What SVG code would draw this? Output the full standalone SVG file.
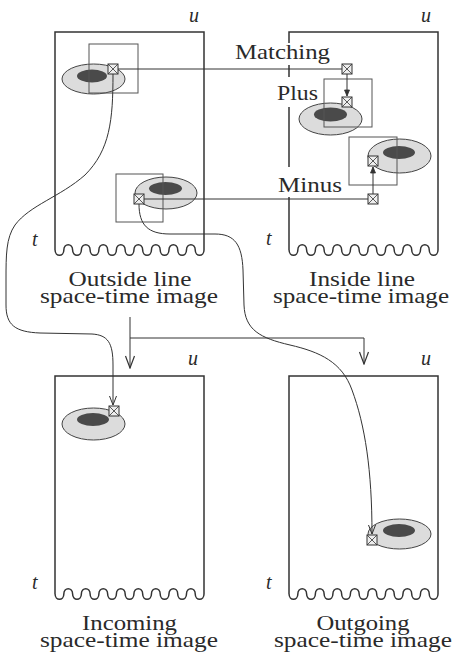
<svg xmlns="http://www.w3.org/2000/svg" width="453" height="654" viewBox="0 0 453 654">
<style>
.frame{fill:none;stroke:#333;stroke-width:1.5}
.sq{fill:none;stroke:#555;stroke-width:1}
.outer{fill:#dcdcdc;stroke:#444;stroke-width:1}
.inner{fill:#4a4a4a}
.con{fill:none;stroke:#333;stroke-width:1}
.lbl{font-family:"Liberation Serif","Times New Roman",serif;font-size:21px;fill:#2a2a2a}
.ax{font-family:"Liberation Serif","Times New Roman",serif;font-size:20px;font-style:italic;fill:#2a2a2a}
.gap{fill:#fff;stroke:none}
</style>
<defs>
<path id="frm" d="M0,218 V0 H149 V218 c0,7 -8.76,7 -8.76,0 c0,-7 -8.76,-7 -8.76,0 c0,7 -8.76,7 -8.76,0 c0,-7 -8.76,-7 -8.76,0 c0,7 -8.76,7 -8.76,0 c0,-7 -8.76,-7 -8.76,0 c0,7 -8.76,7 -8.76,0 c0,-7 -8.76,-7 -8.76,0 c0,7 -8.76,7 -8.76,0 c0,-7 -8.76,-7 -8.76,0 c0,7 -8.76,7 -8.76,0 c0,-7 -8.76,-7 -8.76,0 c0,7 -8.76,7 -8.76,0 c0,-7 -8.76,-7 -8.76,0 c0,7 -8.76,7 -8.76,0 c0,-7 -8.76,-7 -8.76,0 c0,7 -8.76,7 -8.76,0"/>
<g id="xb"><rect x="-5" y="-5" width="10" height="10" fill="#eee" stroke="#333" stroke-width="1"/><path d="M-5,-5 L5,5 M5,-5 L-5,5" stroke="#333" stroke-width="0.8"/></g>
<marker id="ah" viewBox="-10 -5 11 10" refX="0" refY="0" markerWidth="11" markerHeight="10" markerUnits="userSpaceOnUse" orient="auto"><path d="M-9,-3.5 L0,0 L-9,3.5" fill="none" stroke="#333" stroke-width="1"/></marker>
<marker id="ahs" viewBox="-7 -4 8 8" refX="0" refY="0" markerWidth="8" markerHeight="8" markerUnits="userSpaceOnUse" orient="auto"><path d="M-6,-2.5 L0,0 L-6,2.5 Z" fill="#333" stroke="#333" stroke-width="0.8"/></marker>
<marker id="ahb" viewBox="-13 -6 14 12" refX="0" refY="0" markerWidth="14" markerHeight="12" markerUnits="userSpaceOnUse" orient="auto"><path d="M-12,-4.5 L0,0 L-12,4.5" fill="none" stroke="#333" stroke-width="1.2"/></marker>
</defs>

<g id="panel-outside">
<use href="#frm" class="frame" transform="translate(55,32)"/>
<text class="ax" x="189" y="22">u</text>
<text class="ax" x="32" y="246">t</text>
<ellipse class="outer" cx="93.5" cy="79" rx="31.5" ry="15"/>
<ellipse class="inner" cx="92" cy="76" rx="15" ry="6.5"/>
<rect class="sq" x="89" y="44" width="49" height="49"/>
<ellipse class="outer" cx="166" cy="193" rx="31" ry="16"/>
<ellipse class="inner" cx="165.5" cy="188.5" rx="16.5" ry="6.5"/>
<rect class="sq" x="116" y="174" width="47" height="48"/>
<use href="#xb" x="113" y="69"/>
<use href="#xb" x="139" y="199"/>
<text class="lbl" x="130" y="286" text-anchor="middle" textLength="123" lengthAdjust="spacingAndGlyphs">Outside line</text>
<text class="lbl" x="129" y="303" text-anchor="middle" textLength="178" lengthAdjust="spacingAndGlyphs">space-time image</text>
</g>

<g id="panel-inside">
<use href="#frm" class="frame" transform="translate(289,32)"/>
<rect class="gap" x="284" y="43" width="10" height="22"/>
<rect class="gap" x="284" y="77" width="10" height="30"/>
<rect class="gap" x="284" y="167" width="10" height="30"/>
<text class="ax" x="421" y="22">u</text>
<text class="ax" x="266" y="245">t</text>
<ellipse class="outer" cx="330.5" cy="119" rx="31.5" ry="16"/>
<ellipse class="inner" cx="330.5" cy="114.5" rx="16.5" ry="7"/>
<rect class="sq" x="324" y="79" width="48" height="48"/>
<ellipse class="outer" cx="399.5" cy="156" rx="31.5" ry="17"/>
<ellipse class="inner" cx="399" cy="152.5" rx="16" ry="6.5"/>
<rect class="sq" x="349" y="137" width="48" height="48"/>
<use href="#xb" x="347" y="69"/>
<use href="#xb" x="347" y="102"/>
<use href="#xb" x="373" y="161"/>
<use href="#xb" x="373" y="199"/>
<text class="lbl" x="362" y="286" text-anchor="middle" textLength="106" lengthAdjust="spacingAndGlyphs">Inside line</text>
<text class="lbl" x="361" y="303" text-anchor="middle" textLength="176" lengthAdjust="spacingAndGlyphs">space-time image</text>
</g>

<g id="panel-incoming">
<use href="#frm" class="frame" transform="translate(55,376)"/>
<text class="ax" x="188" y="365">u</text>
<text class="ax" x="32" y="589">t</text>
<ellipse class="outer" cx="93.5" cy="424" rx="31.5" ry="16"/>
<ellipse class="inner" cx="93" cy="419.5" rx="16" ry="6.5"/>
<use href="#xb" x="114" y="411"/>
<text class="lbl" x="129.5" y="630" text-anchor="middle" textLength="95" lengthAdjust="spacingAndGlyphs">Incoming</text>
<text class="lbl" x="129" y="647" text-anchor="middle" textLength="178" lengthAdjust="spacingAndGlyphs">space-time image</text>
</g>

<g id="panel-outgoing">
<use href="#frm" class="frame" transform="translate(289,376)"/>
<text class="ax" x="421" y="365">u</text>
<text class="ax" x="266" y="589">t</text>
<ellipse class="outer" cx="399.5" cy="534" rx="31.5" ry="15"/>
<ellipse class="inner" cx="399" cy="530.5" rx="16" ry="6.5"/>
<use href="#xb" x="372" y="540"/>
<text class="lbl" x="363" y="630" text-anchor="middle" textLength="93" lengthAdjust="spacingAndGlyphs">Outgoing</text>
<text class="lbl" x="363" y="647" text-anchor="middle" textLength="178" lengthAdjust="spacingAndGlyphs">space-time image</text>
</g>

<g id="connectors">
<path class="con" d="M118,69 H342"/>
<path class="con" d="M347,74 V96" marker-end="url(#ahs)"/>
<path class="con" d="M144,199 H368"/>
<path class="con" d="M373,194 V167" marker-end="url(#ahs)"/>
<path class="con" d="M113,74 C113,120 110,150 85,175 C60,197 30,205 15,225 C6,238 6,255 6,280 L6,305 C6,325 15,332 40,333 L92,334 C108,335 113,343 113,365 L113,405" marker-end="url(#ah)"/>
<path class="con" d="M139,204 C139,225 148,234 170,234 L215,234 C235,234 242,245 243,270 L244,305 C245,330 260,338 290,345 C320,352 342,362 352,390 C365,425 372,470 372,534" marker-end="url(#ah)"/>
<path class="con" d="M130,317 V368" marker-end="url(#ahb)"/>
<path class="con" d="M130,338 H364 V364" marker-end="url(#ahb)"/>
</g>

<g id="labels">
<text class="lbl" x="235" y="59" textLength="95" lengthAdjust="spacingAndGlyphs">Matching</text>
<text class="lbl" x="277" y="100" textLength="41" lengthAdjust="spacingAndGlyphs">Plus</text>
<text class="lbl" x="278" y="192" textLength="64" lengthAdjust="spacingAndGlyphs">Minus</text>
</g>
</svg>
